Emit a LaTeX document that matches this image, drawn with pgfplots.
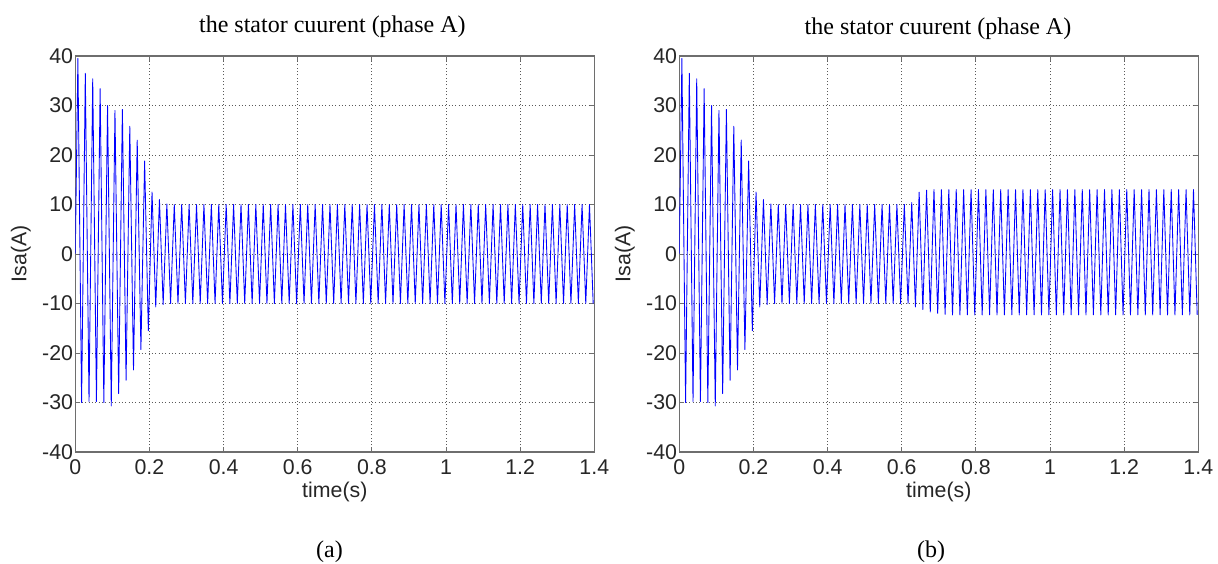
\documentclass[border=0pt]{standalone}
\usepackage{pgfplots}
\pgfplotsset{compat=1.18}
\usepackage{fontspec}
\setmainfont{Liberation Serif}
\newfontfamily\arial{Liberation Sans}
\definecolor{axgray}{RGB}{110,110,110}
\definecolor{gridgray}{RGB}{90,90,90}
\pgfplotsset{
  mystyle/.style={
    width=389.25pt, height=297pt, scale only axis,
    xmin=0, xmax=1.4, ymin=-40, ymax=40,
    xtick={0,0.2,0.4,0.6,0.8,1,1.2,1.4},
    ytick={-40,-30,-20,-10,0,10,20,30,40},
    grid=major,
    major grid style={gridgray, dash pattern=on 0.75pt off 1.75pt, line width=0.6pt},
    axis line style={axgray, line width=1pt},
    tick style={axgray, line width=0.6pt},
    major tick length=3.5pt, tick align=inside,
    /pgf/number format/assume math mode=true,
    ticklabel style={font=\arial\fontsize{16}{18}\selectfont, text=black!85},
    yticklabel style={inner sep=1.5pt},
    xticklabel style={inner sep=1.5pt, yshift=-4pt},
    xlabel={time(s)}, ylabel={Isa(A)},
    label style={font=\arial\fontsize{16}{18}\selectfont, text=black!85},
    xlabel style={at={(axis description cs:0.5,-0.102)}, anchor=center},
    ylabel style={at={(axis description cs:-0.105,0.5)}, anchor=center},
    no markers,
    every axis plot/.append style={blue, line width=0.65pt, line join=round, mark=none},
  }
}
\begin{document}
\begin{tikzpicture}
\path[use as bounding box] (0pt,0pt) rectangle (913.5pt,423pt);

\begin{axis}[mystyle, at={(56.475pt,84pt)}, anchor=south west]
\addplot coordinates {
(0,0)
(0.007,39.5)(0.017,-30.0)(0.027,36.5)(0.037,-29.8)(0.047,35.4)(0.057,-29.8)(0.067,33.4)(0.077,-30.0)(0.087,30.0)(0.097,-30.7)
(0.107,29.0)(0.117,-28.2)(0.127,29.2)(0.137,-25.5)(0.147,25.8)(0.157,-23.4)(0.167,23.0)(0.177,-19.3)(0.187,18.8)(0.197,-15.5)
(0.207,12.5)(0.217,-10.7)(0.227,11.0)(0.237,-10.2)(0.247,10.1)(0.257,-10.0)(0.267,10.0)(0.277,-10.0)(0.287,10.0)(0.297,-10.0)
(0.307,10)(0.317,-10)(0.327,10)(0.337,-10)(0.347,10)(0.357,-10)(0.367,10)(0.377,-10)(0.387,10)(0.397,-10)
(0.407,10)(0.417,-10)(0.427,10)(0.437,-10)(0.447,10)(0.457,-10)(0.467,10)(0.477,-10)(0.487,10)(0.497,-10)
(0.507,10)(0.517,-10)(0.527,10)(0.537,-10)(0.547,10)(0.557,-10)(0.567,10)(0.577,-10)(0.587,10)(0.597,-10)
(0.607,10)(0.617,-10)(0.627,10)(0.637,-10)(0.647,10)(0.657,-10)(0.667,10)(0.677,-10)(0.687,10)(0.697,-10)
(0.707,10)(0.717,-10)(0.727,10)(0.737,-10)(0.747,10)(0.757,-10)(0.767,10)(0.777,-10)(0.787,10)(0.797,-10)
(0.807,10)(0.817,-10)(0.827,10)(0.837,-10)(0.847,10)(0.857,-10)(0.867,10)(0.877,-10)(0.887,10)(0.897,-10)
(0.907,10)(0.917,-10)(0.927,10)(0.937,-10)(0.947,10)(0.957,-10)(0.967,10)(0.977,-10)(0.987,10)(0.997,-10)
(1.007,10)(1.017,-10)(1.027,10)(1.037,-10)(1.047,10)(1.057,-10)(1.067,10)(1.077,-10)(1.087,10)(1.097,-10)
(1.107,10)(1.117,-10)(1.127,10)(1.137,-10)(1.147,10)(1.157,-10)(1.167,10)(1.177,-10)(1.187,10)(1.197,-10)
(1.207,10)(1.217,-10)(1.227,10)(1.237,-10)(1.247,10)(1.257,-10)(1.267,10)(1.277,-10)(1.287,10)(1.297,-10)
(1.307,10)(1.317,-10)(1.327,10)(1.337,-10)(1.347,10)(1.357,-10)(1.367,10)(1.377,-10)(1.387,10)(1.397,-10)
};
\end{axis}

\begin{axis}[mystyle, at={(509.475pt,84pt)}, anchor=south west]
\addplot coordinates {
(0,0)
(0.007,39.5)(0.017,-30.0)(0.027,36.5)(0.037,-29.8)(0.047,35.4)(0.057,-29.8)(0.067,33.4)(0.077,-30.0)(0.087,30.0)(0.097,-30.7)
(0.107,29.0)(0.117,-28.2)(0.127,29.2)(0.137,-25.5)(0.147,25.8)(0.157,-23.4)(0.167,23.0)(0.177,-19.3)(0.187,18.8)(0.197,-15.5)
(0.207,12.5)(0.217,-10.7)(0.227,11.0)(0.237,-10.2)(0.247,10.1)(0.257,-10.0)(0.267,10.0)(0.277,-10.0)(0.287,10.0)(0.297,-10.0)
(0.307,10)(0.317,-10)(0.327,10)(0.337,-10)(0.347,10)(0.357,-10)(0.367,10)(0.377,-10)(0.387,10)(0.397,-10)
(0.407,10)(0.417,-10)(0.427,10)(0.437,-10)(0.447,10)(0.457,-10)(0.467,10)(0.477,-10)(0.487,10)(0.497,-10)
(0.507,10)(0.517,-10)(0.527,10)(0.537,-10)(0.547,10)(0.557,-10)(0.567,10)(0.577,-10)(0.587,10)(0.597,-10)
(0.607,10.0)(0.617,-10.0)(0.627,10.4)(0.637,-10.7)(0.647,12.5)(0.657,-11.2)(0.667,12.9)(0.677,-11.7)(0.687,13.0)(0.697,-12.0)
(0.707,13)(0.717,-12.2)(0.727,13)(0.737,-12.3)(0.747,13)(0.757,-12.3)(0.767,13)(0.777,-12.3)(0.787,13)(0.797,-12.3)
(0.807,13)(0.817,-12.3)(0.827,13)(0.837,-12.3)(0.847,13)(0.857,-12.3)(0.867,13)(0.877,-12.3)(0.887,13)(0.897,-12.3)
(0.907,13)(0.917,-12.3)(0.927,13)(0.937,-12.3)(0.947,13)(0.957,-12.3)(0.967,13)(0.977,-12.3)(0.987,13)(0.997,-12.3)
(1.007,13)(1.017,-12.3)(1.027,13)(1.037,-12.3)(1.047,13)(1.057,-12.3)(1.067,13)(1.077,-12.3)(1.087,13)(1.097,-12.3)
(1.107,13)(1.117,-12.3)(1.127,13)(1.137,-12.3)(1.147,13)(1.157,-12.3)(1.167,13)(1.177,-12.3)(1.187,13)(1.197,-12.3)
(1.207,13)(1.217,-12.3)(1.227,13)(1.237,-12.3)(1.247,13)(1.257,-12.3)(1.267,13)(1.277,-12.3)(1.287,13)(1.297,-12.3)
(1.307,13)(1.317,-12.3)(1.327,13)(1.337,-12.3)(1.347,13)(1.357,-12.3)(1.367,13)(1.377,-12.3)(1.387,13)(1.397,-12.3)
};
\end{axis}

\node[font=\fontsize{18}{20}\selectfont] at (249.3pt,402.75pt) {the stator cuurent (phase A)};
\node[font=\fontsize{18}{20}\selectfont] at (703.5pt,401.25pt) {the stator cuurent (phase A)};
\node[font=\fontsize{18}{20}\selectfont] at (247.1pt,9pt) {(a)};
\node[font=\fontsize{18}{20}\selectfont] at (698.25pt,9pt) {(b)};
\end{tikzpicture}
\end{document}
